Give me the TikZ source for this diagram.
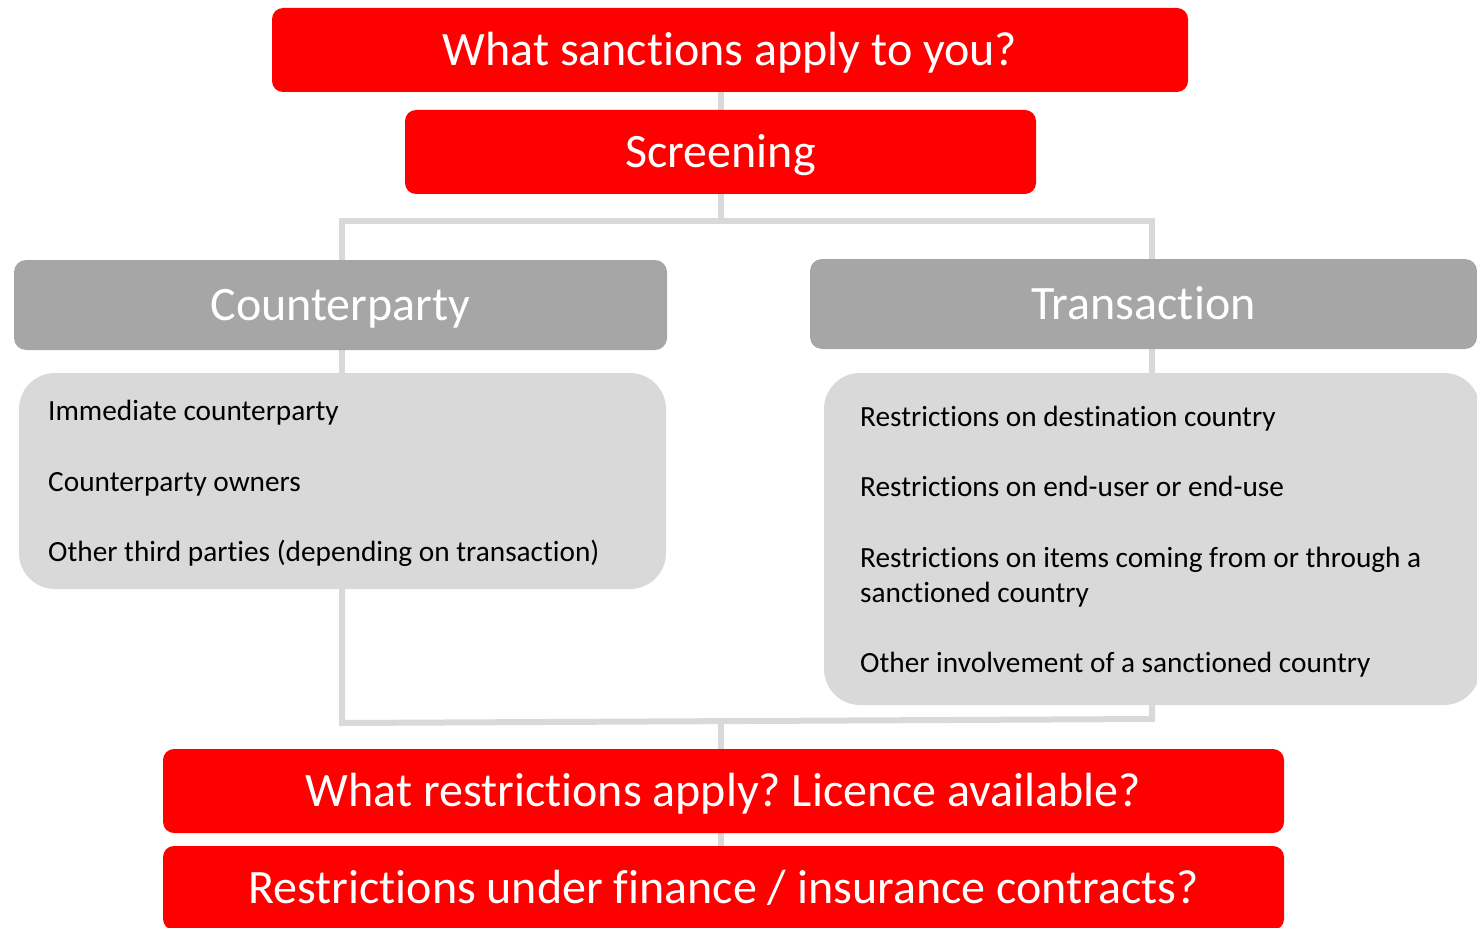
\documentclass[tikz,border=0pt]{standalone}
\usepackage{fontspec}
\setmainfont{Carlito}[Ligatures=NoCommon]
\usetikzlibrary{backgrounds}
\definecolor{sred}{HTML}{FF0000}
\definecolor{hdgrey}{HTML}{A6A6A6}
\definecolor{ltgrey}{HTML}{D9D9D9}
\frenchspacing
\begin{document}
\begin{tikzpicture}[x=1pt,y=-1pt,
  bigtext/.style={text=white, inner sep=0pt, text height=31pt, text depth=0pt,
    font=\fontsize{48}{58}\selectfont},
  redbox/.style={bigtext, fill=sred, rounded corners=11pt},
  headbox/.style={bigtext, fill=hdgrey, rounded corners=12pt},
  listbox/.style={fill=ltgrey, rounded corners=36pt, inner sep=0pt},
  item/.style={anchor=base west, inner sep=0pt, align=left,
    font=\fontsize{29.3}{35}\selectfont},
  conn/.style={draw=ltgrey, line width=6pt, line join=miter}]
\clip (0,0) rectangle (1477,928);
\useasboundingbox (0,0) rectangle (1477,928);

% question and screening boxes
\node[redbox, minimum width=916pt, minimum height=84pt] (top) at (730,50) {What sanctions apply to you?};
\node[redbox, minimum width=631pt, minimum height=84pt] (screen) at (720.5,152) {Screening};

% the two branches
\node[headbox, minimum width=653pt, minimum height=90pt] (cp) at (340.5,305) {Counterparty};
\node[listbox, minimum width=647pt, minimum height=216pt] (cplist) at (342.5,481) {};
\node[headbox, minimum width=667pt, minimum height=90pt] (tr) at (1143.5,304) {Transaction};
\node[listbox, minimum width=656pt, minimum height=332pt] (trlist) at (1152,539) {};

% list entries (base anchor of the two-line entry sits on its last line)
\node[item] (c1) at (48,420) {Immediate counterparty};
\node[item] (c2) at (48,491) {Counterparty owners};
\node[item] (c3) at (48,561) {Other third parties (depending on transaction)};
\node[item] (t1) at (860,426) {Restrictions on destination country};
\node[item] (t2) at (860,496) {Restrictions on end-user or end-use};
\node[item] (t3) at (860,602) {Restrictions on items coming from or through a\\sanctioned country};
\node[item] (t4) at (860,672) {Other involvement of a sanctioned country};

% outcome boxes
\node[redbox, minimum width=1121pt, minimum height=84pt] (q1) at (723.5,791) {What restrictions apply? Licence available?};
\node[redbox, minimum width=1121pt, minimum height=84pt] (q2) at (723.5,888) {Restrictions under finance / insurance contracts?};

% connectors behind the boxes
\coordinate (jt) at (721,221);
\coordinate (jl) at (342,221);
\coordinate (jr) at (1152,221);
\coordinate (bl) at (342,723);
\coordinate (br) at (1152,719);
\coordinate (jb) at (721,722);
\begin{pgfonlayer}{background}
  \draw[conn] (screen.north -| jt) -- (top.south -| jt);
  \draw[conn] (screen.south -| jt) -- (jt);
  \draw[conn] (cp.north -| jl) -- (jl) -- (jr) -- (tr.north -| jr);
  \draw[conn] (cp.south -| jl) -- (cplist.north -| jl);
  \draw[conn] (tr.south -| jr) -- (trlist.north -| jr);
  \draw[conn] (cplist.south -| bl) -- (bl) -- (br) -- (trlist.south -| br);
  \draw[conn] (jb) -- (q1.north -| jb);
  \draw[conn] (q1.south -| jb) -- (q2.north -| jb);
\end{pgfonlayer}
\end{tikzpicture}
\end{document}
